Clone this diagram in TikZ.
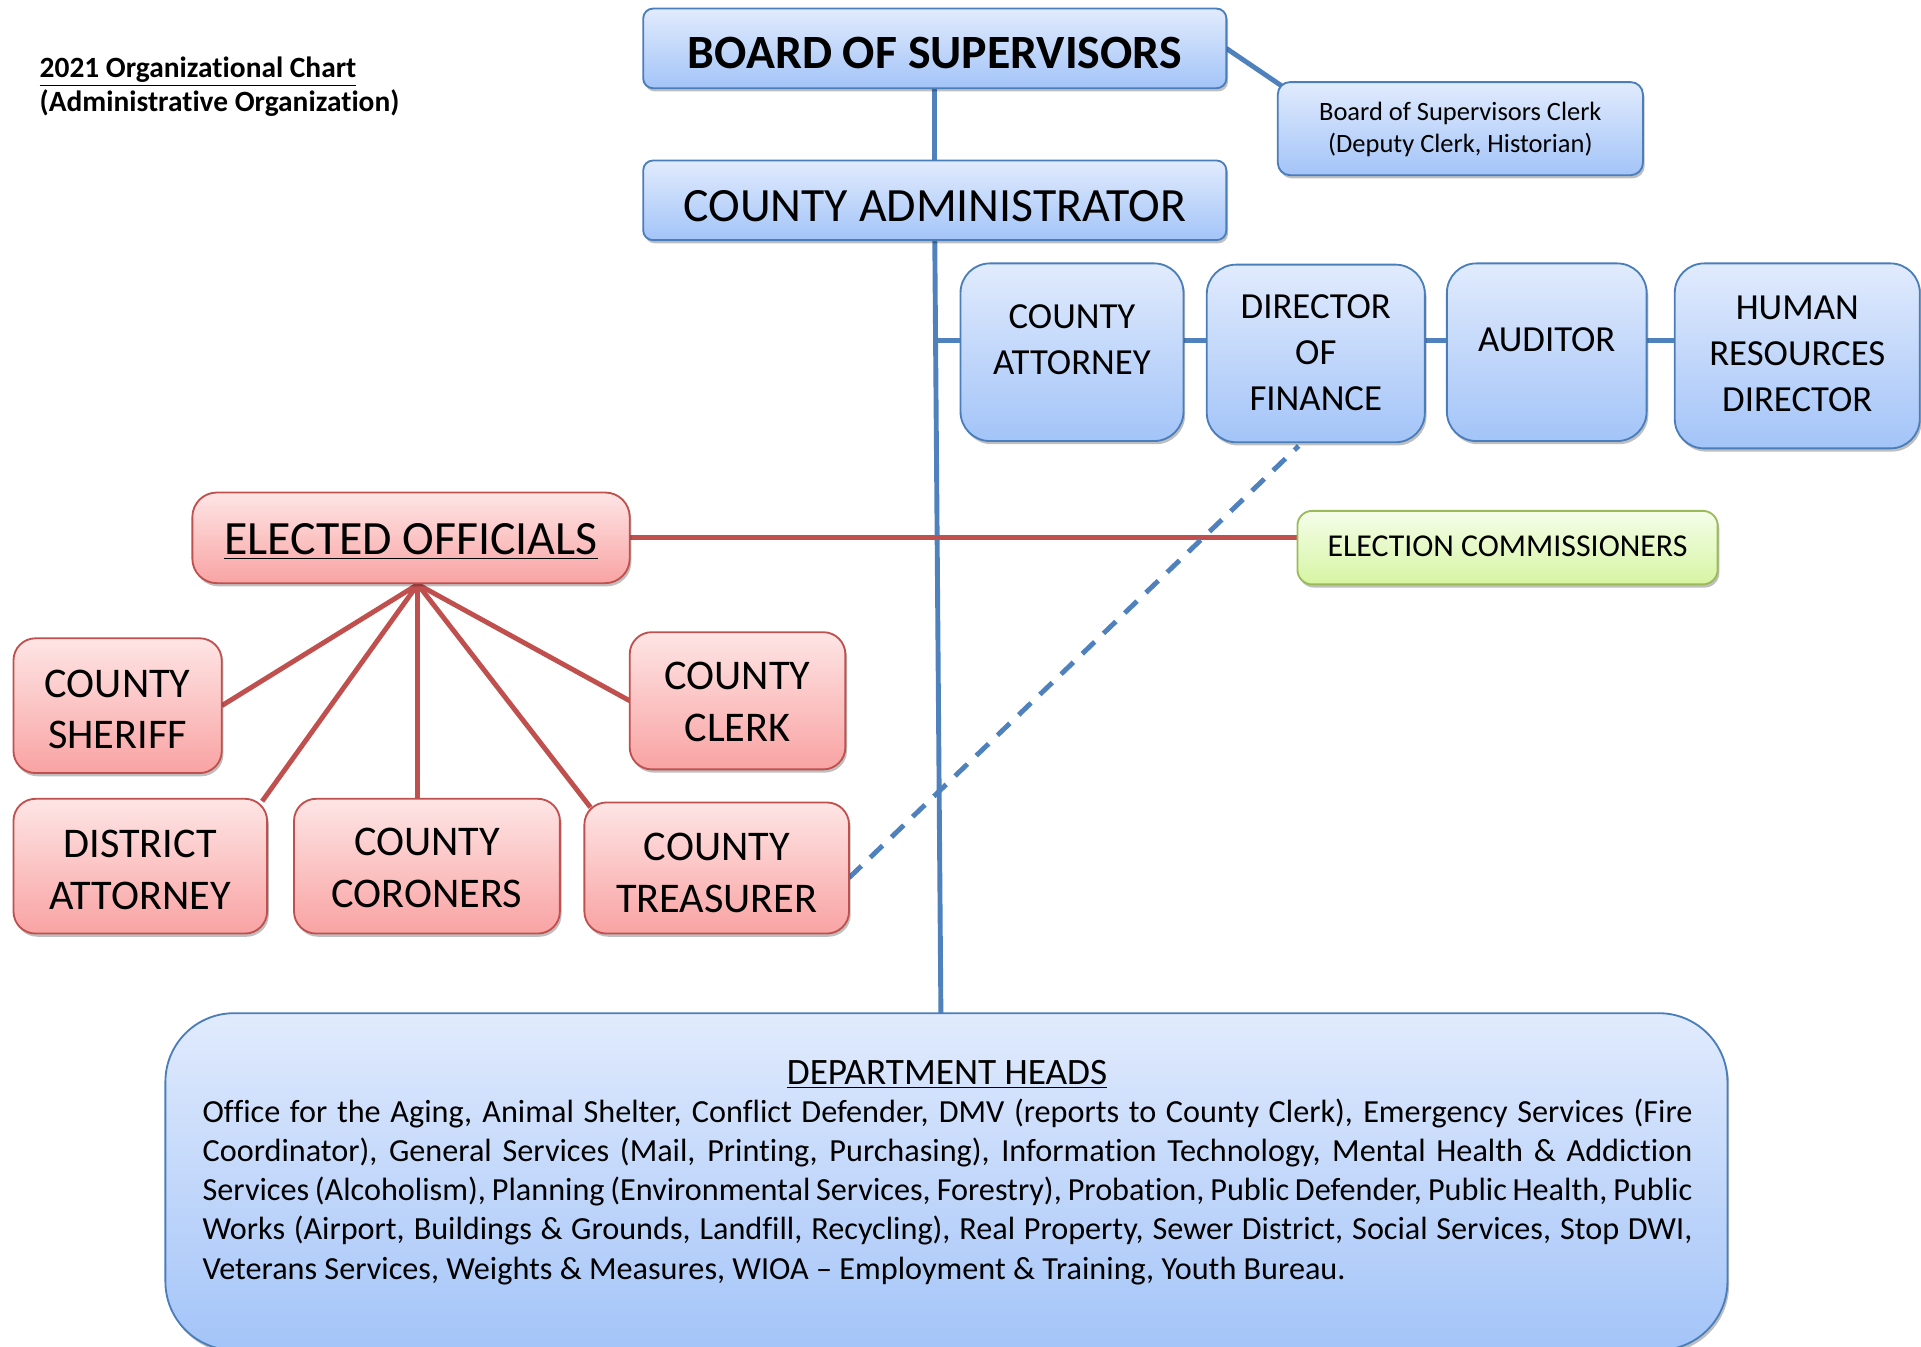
\documentclass[tikz,border=0pt]{standalone}
\usepackage{fontspec}
\setmainfont{Carlito}[Ligatures={TeX,NoCommon}]
\usetikzlibrary{shadows,calc}
\definecolor{bline}{HTML}{4F81BD}
\definecolor{bborder}{HTML}{4A7EBB}
\definecolor{btop}{HTML}{E1EBFD}
\definecolor{bbot}{HTML}{A3C4F8}
\definecolor{rline}{HTML}{C0504D}
\definecolor{rtop}{HTML}{FEE5E5}
\definecolor{rbot}{HTML}{F9A3A3}
\definecolor{gborder}{HTML}{9BBB59}
\definecolor{gtop}{HTML}{F5FDEA}
\definecolor{gbot}{HTML}{D6F5A2}
\pgfdeclarelayer{bg}
\pgfsetlayers{bg,main}
\begin{document}
\begin{tikzpicture}[x=0.5pt,y=-0.5pt,
  box/.style={line width=0.75pt, inner sep=0pt, outer sep=0pt,
    drop shadow={shadow xshift=0.7pt, shadow yshift=-1.3pt, fill=black, opacity=0.25}},
  bluebox/.style={box, draw=bborder, top color=btop, bottom color=bbot},
  redbox/.style={box, draw=rline, top color=rtop, bottom color=rbot},
  greenbox/.style={box, draw=gborder, top color=gtop, bottom color=gbot},
  lbl/.style={inner sep=0pt, align=center},
  smallblue/.style={lbl, font=\fontsize{15}{18.75}\selectfont},
  redtxt/.style={lbl, font=\fontsize{17.25}{21}\selectfont},
  bluelink/.style={draw=bline, line width=2pt},
  redlink/.style={draw=rline, line width=2pt},
  dashlink/.style={draw=bline, line width=2pt, dash pattern=on 7pt off 5pt}
]
\useasboundingbox (0,0) rectangle (1568,1098.66);

% title
\node[inner sep=0pt, anchor=base west, font=\fontsize{12}{14.5}\selectfont\bfseries] (title1) at (32,63) {\underline{2021 Organizational Chart}};
\node[inner sep=0pt, anchor=base west, font=\fontsize{12}{14.5}\selectfont\bfseries] (title2) at (32,91) {(Administrative Organization)};

% blue boxes
\node[bluebox, rounded corners=4pt, minimum width=238pt, minimum height=32.5pt] (board) at (763,39.5) {};
\node[lbl, font=\fontsize{19.5}{23}\selectfont\bfseries] (tboard) at (763,43) {BOARD OF SUPERVISORS};
\node[bluebox, rounded corners=5pt, minimum width=149pt, minimum height=38pt] (bosclerk) at (1192,105) {};
\node[lbl, font=\fontsize{10.8}{13}\selectfont] (tbosclerk) at (1192,106) {Board of Supervisors Clerk\\(Deputy Clerk, Historian)};
\node[bluebox, rounded corners=4pt, minimum width=238pt, minimum height=32.5pt] (admin) at (763,163.5) {};
\node[lbl, font=\fontsize{19.5}{23}\selectfont] (tadmin) at (763,168) {COUNTY ADMINISTRATOR};

\node[bluebox, rounded corners=12pt, minimum width=91pt, minimum height=72.5pt] (atty) at (875,287.5) {};
\node[smallblue] (tatty) at (875,277.5) {COUNTY\\ATTORNEY};
\node[bluebox, rounded corners=12pt, minimum width=89pt, minimum height=72.5pt] (fin) at (1074,288.5) {};
\node[smallblue] (tfin) at (1074,288) {DIRECTOR\\OF\\FINANCE};
\node[bluebox, rounded corners=12pt, minimum width=81.5pt, minimum height=72.5pt] (aud) at (1262.5,287.5) {};
\node[smallblue] (taud) at (1262.5,277) {AUDITOR};
\node[bluebox, rounded corners=12pt, minimum width=100pt, minimum height=75.5pt] (hr) at (1467,290.5) {};
\node[smallblue] (thr) at (1467,289) {HUMAN\\RESOURCES\\DIRECTOR};

% elected officials
\node[redbox, rounded corners=10pt, minimum width=178.5pt, minimum height=37pt] (elected) at (335.5,439) {};
\node[inner sep=0pt, anchor=base, font=\fontsize{19.5}{23}\selectfont] (telected) at (335.5,453) {\underline{ELECTED OFFICIALS}};
\node[greenbox, rounded corners=6pt, minimum width=171.5pt, minimum height=30pt] (elcomm) at (1230.5,447) {};
\node[lbl, font=\fontsize{13}{16}\selectfont] (telcomm) at (1230.5,446) {ELECTION COMMISSIONERS};

\node[redbox, rounded corners=9pt, minimum width=85pt, minimum height=55pt] (sheriff) at (96,576) {};
\node[redtxt] (tsheriff) at (96,579) {COUNTY\\SHERIFF};
\node[redbox, rounded corners=9pt, minimum width=88pt, minimum height=56pt] (cclerk) at (602,572) {};
\node[redtxt] (tcclerk) at (602,573) {COUNTY\\CLERK};
\node[redbox, rounded corners=9pt, minimum width=103.5pt, minimum height=55pt] (da) at (114.5,707) {};
\node[redtxt] (tda) at (114.5,710) {DISTRICT\\ATTORNEY};
\node[redbox, rounded corners=9pt, minimum width=108.5pt, minimum height=55pt] (coroners) at (348.5,707) {};
\node[redtxt] (tcoroners) at (348.5,708.5) {COUNTY\\CORONERS};
\node[redbox, rounded corners=9pt, minimum width=108pt, minimum height=53.5pt] (treas) at (585,708.5) {};
\node[redtxt] (ttreas) at (585,712.5) {COUNTY\\TREASURER};

% department heads
\node[bluebox, rounded corners=28pt, minimum width=637.5pt, minimum height=137.5pt] (dept) at (772.5,964.5) {};
\node[inner sep=0pt, anchor=base, font=\fontsize{15.2}{18}\selectfont] (tdept) at (773,885) {\underline{DEPARTMENT HEADS}};
\node[inner sep=0pt, anchor=base west, text width=608pt, align=justify, font=\fontsize{13.15}{16}\selectfont] (body) at (165,916) {Office for the Aging, Animal Shelter, Conflict Defender, DMV (reports to County Clerk), Emergency Services (Fire\linebreak Coordinator), General Services (Mail, Printing, Purchasing), Information Technology, Mental Health \& Addiction\linebreak Services (Alcoholism), Planning (Environmental Services, Forestry), Probation, Public Defender, Public Health, Public\linebreak Works (Airport, Buildings \& Grounds, Landfill, Recycling), Real Property, Sewer District, Social Services, Stop DWI,\linebreak Veterans Services, Weights \& Measures, WIOA – Employment \& Training, Youth Bureau.};

% connectors
\coordinate (fan) at (341,477);
\coordinate (vl) at (765,278);
\coordinate (deptin) at (768,827);
\begin{pgfonlayer}{bg}
\draw[bluelink] (board.south) -- (admin.north);
\draw[bluelink] (admin.south) -- (deptin);
\draw[bluelink] (board.east) -- ($(bosclerk.north west)+(3,3)$);
\draw[bluelink] (vl) -- (vl -| atty.west);
\draw[bluelink] (atty.east |- vl) -- (fin.west |- vl);
\draw[bluelink] (fin.east |- vl) -- (aud.west |- vl);
\draw[bluelink] (aud.east |- vl) -- (hr.west |- vl);
\draw[redlink] (elected.east) -- (elected.east -| elcomm.west);
\draw[redlink] (fan) -- (sheriff.east);
\draw[redlink] (fan) -- ($(da.north east)+(-4,2)$);
\draw[redlink] (fan) -- (fan |- coroners.north);
\draw[redlink] (fan) -- ($(treas.north west)+(5,4)$);
\draw[redlink] (fan) -- (cclerk.west);
\draw[dashlink] ($(treas.east)+(0,8)$) -- ($(fin.south)+(-14,3)$);
\end{pgfonlayer}
\end{tikzpicture}
\end{document}
